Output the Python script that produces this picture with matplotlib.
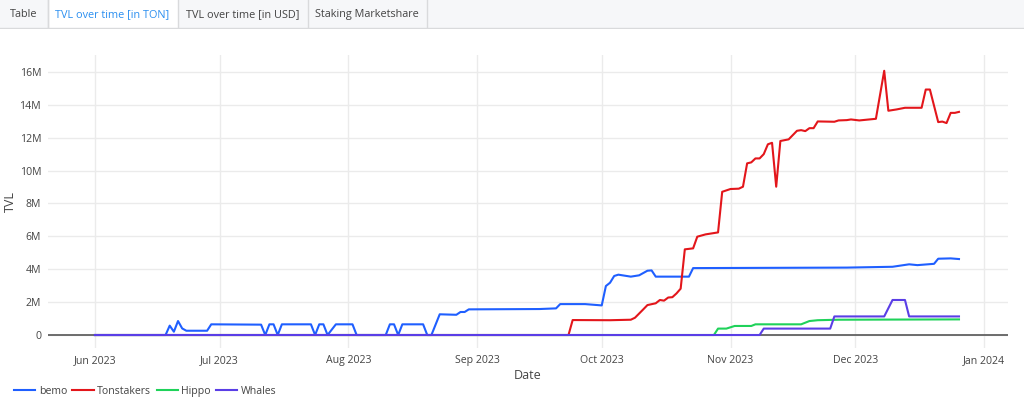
import pandas as pd
import matplotlib
matplotlib.use("Agg")
import matplotlib.pyplot as plt
import matplotlib.dates as mdates
from matplotlib.patches import Rectangle
from matplotlib.ticker import FuncFormatter, MultipleLocator

plt.rcParams["font.family"] = ["Open Sans", "DejaVu Sans"]

# ── Data (TVL in million TON) ────────────────────────────────────────────────
TABS = ["Table", "TVL over time [in TON]", "TVL over time [in USD]", "Staking Marketshare"]
SERIES = ["bemo", "Tonstakers", "Hippo", "Whales"]
COLORS = ["#1f5fff", "#e3161b", "#1fd25a", "#5a3ee6"]

bemo_dates = [
    "2023-06-01", "2023-06-18", "2023-06-19", "2023-06-20", "2023-06-21", "2023-06-22",
    "2023-06-23", "2023-06-28", "2023-06-29", "2023-07-11", "2023-07-12", "2023-07-13",
    "2023-07-14", "2023-07-15", "2023-07-16", "2023-07-23", "2023-07-24", "2023-07-25",
    "2023-07-26", "2023-07-27", "2023-07-29", "2023-08-02", "2023-08-03", "2023-08-10",
    "2023-08-11", "2023-08-12", "2023-08-13", "2023-08-14", "2023-08-19", "2023-08-20",
    "2023-08-21", "2023-08-23", "2023-08-27", "2023-08-28", "2023-08-29", "2023-08-30",
    "2023-09-16", "2023-09-20", "2023-09-21", "2023-09-27", "2023-10-01", "2023-10-02",
    "2023-10-03", "2023-10-04", "2023-10-05", "2023-10-08", "2023-10-10", "2023-10-12",
    "2023-10-13", "2023-10-14", "2023-10-22", "2023-10-23", "2023-11-29", "2023-12-10",
    "2023-12-14", "2023-12-16", "2023-12-20", "2023-12-21", "2023-12-24", "2023-12-26",
]
bemo_vals = [
    0, 0, 0.57, 0.2, 0.85, 0.4,
    0.26, 0.26, 0.65, 0.63, 0, 0.65,
    0.65, 0, 0.65, 0.65, 0, 0.65,
    0.65, 0, 0.65, 0.65, 0, 0,
    0.65, 0.65, 0, 0.65, 0.65, 0,
    0, 1.26, 1.23, 1.4, 1.4, 1.56,
    1.58, 1.62, 1.88, 1.88, 1.8, 2.98,
    3.18, 3.59, 3.67, 3.55, 3.63, 3.91,
    3.93, 3.55, 3.55, 4.07, 4.1, 4.15,
    4.3, 4.25, 4.33, 4.64, 4.66, 4.62,
]

ton_dates = [
    "2023-06-01", "2023-09-23", "2023-09-24", "2023-10-03", "2023-10-08", "2023-10-09",
    "2023-10-11", "2023-10-12", "2023-10-14", "2023-10-15", "2023-10-16", "2023-10-17",
    "2023-10-18", "2023-10-19", "2023-10-20", "2023-10-21", "2023-10-23", "2023-10-24",
    "2023-10-26", "2023-10-29", "2023-10-30", "2023-11-01", "2023-11-03", "2023-11-04",
    "2023-11-05", "2023-11-06", "2023-11-07", "2023-11-08", "2023-11-09", "2023-11-10",
    "2023-11-11", "2023-11-12", "2023-11-13", "2023-11-15", "2023-11-16", "2023-11-17",
    "2023-11-18", "2023-11-19", "2023-11-20", "2023-11-21", "2023-11-22", "2023-11-26",
    "2023-11-27", "2023-11-29", "2023-11-30", "2023-12-02", "2023-12-06", "2023-12-08",
    "2023-12-09", "2023-12-11", "2023-12-13", "2023-12-17", "2023-12-18", "2023-12-19",
    "2023-12-21", "2023-12-22", "2023-12-23", "2023-12-24", "2023-12-25", "2023-12-26",
]
ton_vals = [
    0, 0, 0.91, 0.9, 0.93, 1.05,
    1.56, 1.82, 1.93, 2.13, 2.09, 2.28,
    2.3, 2.53, 2.82, 5.21, 5.27, 5.98,
    6.12, 6.24, 8.71, 8.88, 8.9, 9.02,
    10.44, 10.5, 10.74, 10.74, 11.0, 11.6,
    11.69, 9.02, 11.8, 11.9, 12.16, 12.42,
    12.46, 12.4, 12.58, 12.58, 12.99, 12.97,
    13.05, 13.07, 13.11, 13.05, 13.15, 16.07,
    13.64, 13.72, 13.82, 13.82, 14.93, 14.93,
    12.95, 12.98, 12.89, 13.51, 13.51, 13.57,
]

hippo_dates = [
    "2023-06-01", "2023-10-28", "2023-10-29", "2023-10-31", "2023-11-02", "2023-11-06",
    "2023-11-07", "2023-11-18", "2023-11-20", "2023-11-22", "2023-11-27", "2023-12-26",
]
hippo_vals = [0, 0, 0.39, 0.39, 0.55, 0.55, 0.65, 0.65, 0.85, 0.9, 0.93, 0.95]

whales_dates = [
    "2023-06-01", "2023-11-08", "2023-11-09", "2023-11-25", "2023-11-26", "2023-12-08",
    "2023-12-10", "2023-12-13", "2023-12-14", "2023-12-26",
]
whales_vals = [0, 0, 0.39, 0.39, 1.13, 1.13, 2.13, 2.13, 1.13, 1.13]

series_data = [
    (bemo_dates, bemo_vals),
    (ton_dates, ton_vals),
    (hippo_dates, hippo_vals),
    (whales_dates, whales_vals),
]

# ── Figure ───────────────────────────────────────────────────────────────────
W, H = 1024, 412
fig = plt.figure(figsize=(W / 100, H / 100), dpi=100)

# tab bar
tab_ax = fig.add_axes([0, 1 - 29 / H, 1, 29 / H])
tab_ax.set_xlim(0, W)
tab_ax.set_ylim(29, 0)
tab_ax.axis("off")
tab_ax.add_patch(Rectangle((0, 0), W, 28, facecolor="#f6f7f9", edgecolor="none"))
tab_ax.plot([0, W], [28.2, 28.2], color="#d9dadc", lw=1)
tab_edges = [0, 47.5, 177.5, 307.5, 426.5]
for i, label in enumerate(TABS):
    x0, x1 = tab_edges[i], tab_edges[i + 1]
    active = i == 1
    if active:
        tab_ax.add_patch(Rectangle((x0, 0), x1 - x0, 29, facecolor="white", edgecolor="none"))
    tab_ax.plot([x1, x1], [0, 28], color="#d9dadc", lw=1)
    tab_ax.text((x0 + x1) / 2, 14.5, label, ha="center", va="center", fontsize=7.8,
                color="#2b8ff0" if active else "#444444")
tab_ax.plot([47.5, 47.5], [0, 28], color="#d9dadc", lw=1)

# main chart
ax = fig.add_axes([48 / W, 1 - 348 / H, 960 / W, 293 / H])
for (dates, vals), name, color in zip(series_data, SERIES, COLORS):
    ax.plot(pd.to_datetime(dates), [v * 1e6 for v in vals], color=color, lw=1.5,
            label=name, zorder=3)
ax.axhline(0, color="#555555", lw=1.2, zorder=2)

start = pd.Timestamp("2023-06-01")
ax.set_xlim(start - pd.Timedelta(days=11.3), start + pd.Timedelta(days=219.8))
ax.set_ylim(-0.79e6, 17.03e6)

ax.yaxis.set_major_locator(MultipleLocator(2e6))
ax.yaxis.set_major_formatter(FuncFormatter(lambda v, _: "0" if v == 0 else f"{v / 1e6:.0f}M"))
ax.xaxis.set_major_locator(mdates.MonthLocator())
ax.xaxis.set_major_formatter(mdates.DateFormatter("%b %Y"))

ax.grid(True, color="#ebebeb", lw=1)
ax.set_axisbelow(True)
for s in ax.spines.values():
    s.set_visible(False)
ax.tick_params(length=0, labelsize=7.6, labelcolor="#444444", pad=5)
ax.set_xlabel("Date", fontsize=9, color="#444444")
ax.xaxis.set_label_coords(0.5, -21 / 293)
ax.set_ylabel("TVL", fontsize=9, color="#444444")
ax.yaxis.set_label_coords(-31 / 960, 0.5)

ax.legend(loc="upper left", bbox_to_anchor=(-34 / 960, -38 / 293), ncol=4, frameon=False,
          fontsize=7.6, handlelength=2.0, columnspacing=0.5, handletextpad=0.35,
          borderpad=0, borderaxespad=0, labelcolor="#444444")

fig.savefig("out.png", dpi=100)
